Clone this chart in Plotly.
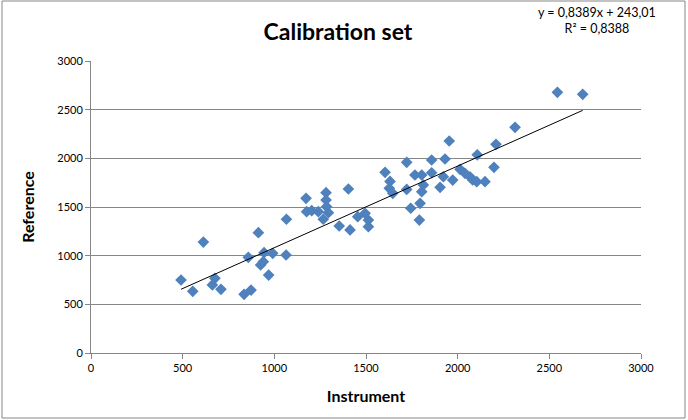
import plotly.graph_objects as go

instrument = [491, 555, 613, 676, 662, 709, 835, 873, 858, 913, 925, 940, 944, 969, 991,
              1064, 1066, 1173, 1176, 1204, 1240, 1282, 1282, 1267, 1295, 1285, 1354, 1404,
              1413, 1455, 1495, 1513, 1513, 1604, 1631, 1627, 1646, 1722, 1722, 1744, 1767,
              1791, 1795, 1804, 1804, 1813, 1858, 1858, 1904, 1922, 1931, 1954, 1973, 2013,
              2040, 2067, 2082, 2104, 2107, 2149, 2198, 2209, 2313, 2544, 2682]
reference = [750, 634, 1140, 767, 699, 654, 603, 647, 983, 1236, 904, 938, 1031, 801, 1024,
             1007, 1374, 1589, 1452, 1462, 1452, 1647, 1572, 1374, 1441, 1503, 1305, 1685,
             1264, 1401, 1435, 1366, 1298, 1856, 1763, 1692, 1640, 1959, 1681, 1487, 1829,
             1366, 1538, 1657, 1829, 1726, 1983, 1852, 1702, 1811, 1993, 2178, 1777, 1887,
             1846, 1811, 1778, 1760, 2036, 1760, 1908, 2144, 2319, 2678, 2658]

slope = 0.8389
intercept = 243.01
trend_x = [min(instrument), max(instrument)]
trend_y = [slope * v + intercept for v in trend_x]

title_text = "Calibration set"
eq_text = "y = 0,8389x + 243,01<br>R² = 0,8388"
x_title = "Instrument"
y_title = "Reference"
tick_vals_x = [0, 500, 1000, 1500, 2000, 2500, 3000]
tick_vals_y = [0, 500, 1000, 1500, 2000, 2500, 3000]

FONT = "Lato, Open Sans, sans-serif"

fig = go.Figure()
fig.add_trace(go.Scatter(
    x=instrument, y=reference, mode="markers",
    marker=dict(symbol="diamond", size=9, color="#4F81BD", line=dict(width=0)),
    showlegend=False, hoverinfo="x+y"))
fig.add_trace(go.Scatter(
    x=trend_x, y=trend_y, mode="lines",
    line=dict(color="#000000", width=1), showlegend=False, hoverinfo="skip"))

fig.update_layout(
    width=688, height=420,
    margin=dict(l=91, r=47, t=61, b=67),
    paper_bgcolor="white", plot_bgcolor="white",
    font=dict(family=FONT, color="#000000", size=11),
    title=dict(text="<b>" + title_text + "</b>", x=338/688, xanchor="center",
               y=1 - 32/420, yanchor="middle", font=dict(size=23, family=FONT)),
    xaxis=dict(range=[0, 3000], tickvals=tick_vals_x, showgrid=False, zeroline=False,
               showline=True, linecolor="#868686", linewidth=1,
               ticks="outside", ticklen=5, tickcolor="#868686",
               tickfont=dict(size=11),
               title=dict(text="<b>" + x_title + "</b>", font=dict(size=16), standoff=17)),
    yaxis=dict(range=[0, 3000], tickvals=tick_vals_y, showgrid=True, gridcolor="#868686",
               gridwidth=1, zeroline=False,
               showline=True, linecolor="#868686", linewidth=1,
               ticks="outside", ticklen=5, tickcolor="#868686",
               tickfont=dict(size=11),
               title=dict(text="<b>" + y_title + "</b>", font=dict(size=16), standoff=18)),
    shapes=[dict(type="rect", xref="paper", yref="paper",
                 x0=(2 - 91) / 550, x1=(685 - 91) / 550,
                 y0=(353 - 418) / 292, y1=(353 - 1) / 292,
                 line=dict(color="#868686", width=1), fillcolor="rgba(0,0,0,0)", layer="below")],
    annotations=[dict(text=eq_text, xref="paper", yref="paper",
                      x=(597 - 91) / 550, y=(353 - 21) / 292, xanchor="center", yanchor="middle",
                      showarrow=False, align="center", font=dict(size=12.5, family=FONT))],
)

fig.write_html("out.html")
